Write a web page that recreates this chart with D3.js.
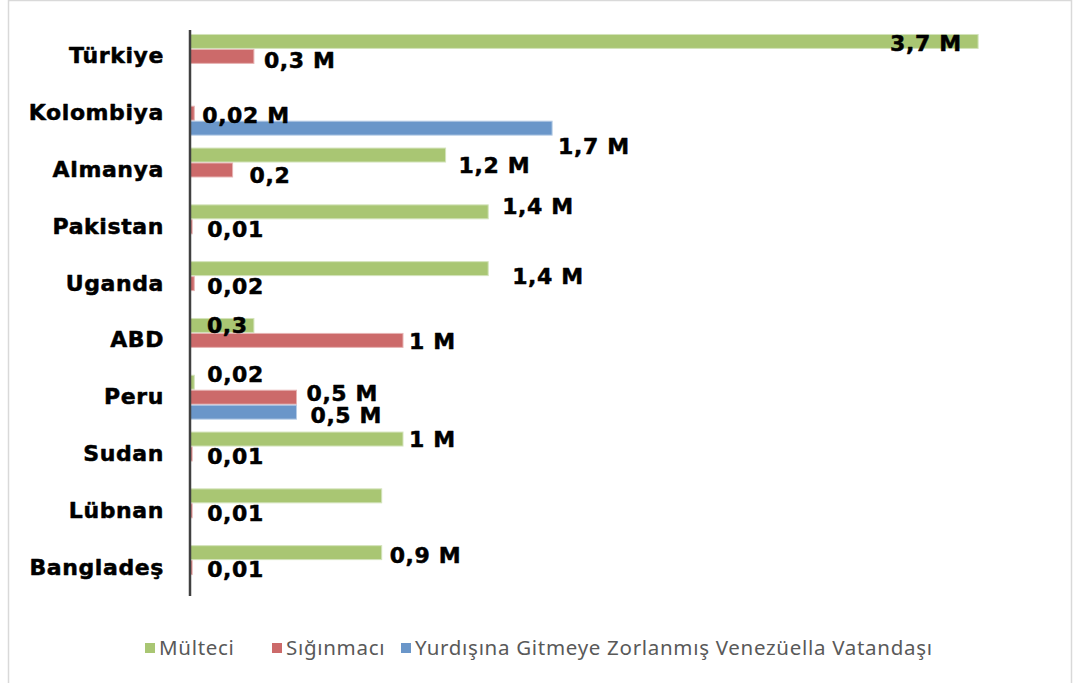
<!DOCTYPE html>
<html>
<head>
<meta charset="utf-8">
<script src="https://cdn.jsdelivr.net/npm/d3@7"></script>
<style>
  html, body { margin: 0; padding: 0; background: #fff; }
  svg { display: block; }
</style>
</head>
<body>
<svg id="chart" width="1074" height="683"></svg>
<script>
// ---- data ----
const countries = ["Türkiye", "Kolombiya", "Almanya", "Pakistan", "Uganda", "ABD", "Peru", "Sudan", "Lübnan", "Bangladeş"];
const seriesNames = ["Mülteci", "Sığınmacı", "Yurdışına Gitmeye Zorlanmış Venezüella Vatandaşı"];
const multeci   = [3.7, 0, 1.2, 1.4, 1.4, 0.3, 0.02, 1.0, 0.9, 0.9];
const siginmaci = [0.3, 0.02, 0.2, 0.01, 0.02, 1.0, 0.5, 0.01, 0.01, 0.01];
const venezuela = [0, 1.7, 0, 0, 0, 0, 0.5, 0, 0, 0];
const multeciLabels   = ["3,7 M", "", "1,2 M", "1,4 M", "1,4 M", "0,3", "0,02", "1 M", "", "0,9 M"];
const siginmaciLabels = ["0,3 M", "0,02 M", "0,2", "0,01", "0,02", "1 M", "0,5 M", "0,01", "0,01", "0,01"];
const venezuelaLabels = ["", "1,7 M", "", "", "", "", "0,5 M", "", "", ""];

// ---- layout (label nudges: [dx from bar end, dy from bar centre]) ----
const multeciNudge   = [[-88, 2], [0, 0], [13, 10], [14, -6], [24, 7], [-47, 0], [13, -8], [6, 0], [0, 0], [8, 2]];
const siginmaciNudge = [[10, 4], [8, 2], [17, 5], [15, 2], [13, 2], [6, 1], [10, -4], [15, 2], [15, 2], [15, 1]];
const venezuelaNudge = [[0, 0], [6, 18], [0, 0], [0, 0], [0, 0], [0, 0], [14, 3], [0, 0], [0, 0], [0, 0]];

const colors = ["#a9c673", "#cc6a6a", "#6a96c9"];
const strokes = ["#d3e3bb", "#e6b3b3", "#b5cbe5"];

const series = [
  { name: seriesNames[0], values: multeci, labels: multeciLabels, nudge: multeciNudge },
  { name: seriesNames[1], values: siginmaci, labels: siginmaciLabels, nudge: siginmaciNudge },
  { name: seriesNames[2], values: venezuela, labels: venezuelaLabels, nudge: venezuelaNudge }
];

const svg = d3.select("#chart");

// outer frame
svg.append("rect")
  .attr("x", 8.5).attr("y", 0.5).attr("width", 1063).attr("height", 690)
  .attr("fill", "none").attr("stroke", "#d9d9d9").attr("stroke-width", 1.5);

const x = d3.scaleLinear().domain([0, 4]).range([190, 190 + 4 * 213]);
const y = d3.scaleBand().domain(countries).range([28, 596]).paddingInner(0.21).paddingOuter(0.105);
const ySub = d3.scaleBand().domain(d3.range(3)).range([0, y.bandwidth()]);

const groups = svg.append("g").selectAll("g")
  .data(countries)
  .join("g")
  .attr("transform", d => `translate(0,${y(d)})`);

series.forEach((s, si) => {
  groups.filter((d, i) => s.values[i] > 0)
    .append("rect")
    .attr("x", x(0))
    .attr("y", ySub(si) + 0.5)
    .attr("width", d => x(s.values[countries.indexOf(d)]) - x(0))
    .attr("height", ySub.bandwidth() - 1)
    .attr("fill", colors[si])
    .attr("stroke", strokes[si])
    .attr("stroke-width", 1);
});

const heavyText = sel => sel
  .attr("font-family", "'DejaVu Sans', sans-serif")
  .attr("font-weight", "bold")
  .attr("font-size", 22)
  .attr("letter-spacing", 0.6)
  .attr("fill", "#000")
  .attr("stroke", "#000")
  .attr("stroke-width", 0.5)
  .attr("stroke-linejoin", "round");

// value labels
series.forEach((s, si) => {
  groups.filter((d, i) => s.labels[i] !== "")
    .append("text")
    .attr("x", d => { const i = countries.indexOf(d); return x(s.values[i]) + s.nudge[i][0]; })
    .attr("y", d => { const i = countries.indexOf(d); return ySub(si) + ySub.bandwidth() / 2 + s.nudge[i][1]; })
    .attr("dy", "0.36em")
    .call(heavyText)
    .text(d => s.labels[countries.indexOf(d)]);
});

// category axis
const yAxis = d3.axisLeft(y).tickSize(0).tickPadding(26);
const ax = svg.append("g").attr("transform", `translate(${x(0)},0)`).call(yAxis);
ax.select(".domain").remove();
ax.selectAll("text").call(heavyText);

svg.append("line")
  .attr("x1", x(0)).attr("x2", x(0))
  .attr("y1", 30).attr("y2", 596)
  .attr("stroke", "#404040").attr("stroke-width", 2.5);

// legend
const legendX = [145, 272, 401];
const legend = svg.append("g").selectAll("g")
  .data(seriesNames)
  .join("g")
  .attr("transform", (d, i) => `translate(${legendX[i]},648)`);
legend.append("rect")
  .attr("x", 0).attr("y", -5).attr("width", 10).attr("height", 10)
  .attr("fill", (d, i) => colors[i]);
legend.append("text")
  .attr("x", 14).attr("y", 0).attr("dy", "0.35em")
  .attr("font-family", "'Noto Sans', sans-serif")
  .attr("font-size", 20.5)
  .attr("letter-spacing", 0.7)
  .attr("fill", "#595959")
  .text(d => d);
</script>
</body>
</html>
